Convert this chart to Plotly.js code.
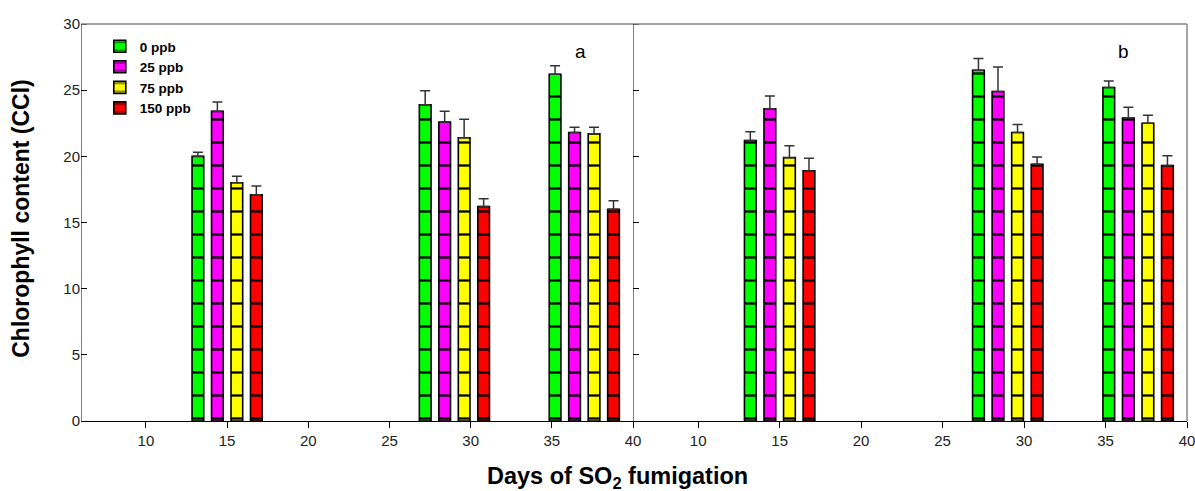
<!DOCTYPE html>
<html>
<head>
<meta charset="utf-8">
<script src="https://cdn.plot.ly/plotly-3.0.1.min.js"></script>
<style>html,body{margin:0;padding:0;background:#fff;}#chart{width:1195px;height:491px;}</style>
</head>
<body>
<div id="chart"></div>
<script>
// Days of SO2 fumigation (group centres)
const days = [15, 29, 37];
const seriesNames = ["0 ppb", "25 ppb", "75 ppb", "150 ppb"];
const seriesColors = ["#00ff00", "#ff00ff", "#ffff00", "#ff0000"];

// Panel a: chlorophyll content (CCI)
const a_0ppb   = [20.0, 23.9, 26.2];
const a_25ppb  = [23.4, 22.6, 21.8];
const a_75ppb  = [18.0, 21.4, 21.7];
const a_150ppb = [17.1, 16.2, 16.0];
const a_err_0ppb   = [0.3, 1.05, 0.65];
const a_err_25ppb  = [0.7, 0.8, 0.4];
const a_err_75ppb  = [0.5, 1.4, 0.5];
const a_err_150ppb = [0.65, 0.6, 0.65];

// Panel b
const b_0ppb   = [21.2, 26.5, 25.2];
const b_25ppb  = [23.6, 24.9, 22.9];
const b_75ppb  = [19.9, 21.8, 22.5];
const b_150ppb = [18.9, 19.4, 19.3];
const b_err_0ppb   = [0.65, 0.9, 0.5];
const b_err_25ppb  = [0.95, 1.85, 0.8];
const b_err_75ppb  = [0.9, 0.6, 0.6];
const b_err_150ppb = [0.95, 0.55, 0.75];

const xTicks = [10, 15, 20, 25, 30, 35, 40];
const yTicks = [0, 5, 10, 15, 20, 25, 30];

const panelA = [a_0ppb, a_25ppb, a_75ppb, a_150ppb];
const panelAErr = [a_err_0ppb, a_err_25ppb, a_err_75ppb, a_err_150ppb];
const panelB = [b_0ppb, b_25ppb, b_75ppb, b_150ppb];
const panelBErr = [b_err_0ppb, b_err_25ppb, b_err_75ppb, b_err_150ppb];

const FONT = "Arial, 'Liberation Sans', sans-serif";
const traces = [];
function addPanel(vals, errs, xa, ya, showLegend) {
  vals.forEach((v, i) => {
    traces.push({
      type: "bar",
      x: days,
      y: v,
      name: seriesNames[i],
      xaxis: xa, yaxis: ya,
      showlegend: showLegend,
      legendgroup: seriesNames[i],
      marker: {
        color: seriesColors[i],
        line: {color: "#000", width: 1.6},
        pattern: {shape: "-", fgcolor: "#000", bgcolor: seriesColors[i], size: 23, solidity: 0.1, fillmode: "replace"}
      },
      error_y: {type: "data", symmetric: false, array: errs[i], arrayminus: v.map(() => 0),
                color: "#333", thickness: 1.5, width: 5},
      hoverinfo: "skip"
    });
  });
}
addPanel(panelA, panelAErr, "x", "y", true);
addPanel(panelB, panelBErr, "x2", "y2", false);

// plot area: x 81..1187, y 16..421 (value 30 sits at y=24)
const YMAX = 30 * (421 - 16) / (421 - 24);
const split = (633 - 81) / (1187 - 81);
const axX = {
  range: [6, 40], tickvals: xTicks, ticktext: xTicks.map(String),
  ticks: "outside", ticklen: 6, tickwidth: 1, tickcolor: "#000", ticklabeloverflow: "allow",
  showline: true, linecolor: "#000", linewidth: 1, showgrid: false, zeroline: false,
  tickfont: {family: FONT, size: 15, color: "#222"}
};
const axY = {
  domain: [0, 1], range: [0, YMAX], tickvals: yTicks,
  ticks: "inside", ticklen: 6, tickcolor: "#000",
  showline: false, showgrid: false, zeroline: false,
  tickfont: {family: FONT, size: 15, color: "#222"}
};
const layout = {
  width: 1195, height: 491,
  margin: {l: 81, r: 8, t: 16, b: 70},
  paper_bgcolor: "#fff", plot_bgcolor: "#fff",
  font: {family: FONT},
  barmode: "group", bargap: 0.4, bargroupgap: 0.4,
  xaxis: Object.assign({}, axX, {domain: [0, split], anchor: "y"}),
  xaxis2: Object.assign({}, axX, {domain: [split, 1], anchor: "y2"}),
  yaxis: Object.assign({}, axY, {anchor: "x",
    title: {text: "<b>Chlorophyll content (CCl)</b>", font: {family: FONT, size: 23, color: "#000"}, standoff: 27}}),
  yaxis2: Object.assign({}, axY, {anchor: "x2", showticklabels: false}),
  legend: {
    x: 0.017, y: 0.963, xanchor: "left", yanchor: "top",
    bgcolor: "rgba(0,0,0,0)", tracegroupgap: 0,
    font: {family: FONT, size: 13.5, color: "#000", weight: "bold"}
  },
  shapes: [
    {type: "line", xref: "paper", yref: "y", x0: 0, x1: 1, y0: 30, y1: 30, line: {color: "#888", width: 1.5}},
    {type: "line", xref: "paper", yref: "y", x0: 1, x1: 1, y0: 0, y1: 30, line: {color: "#888", width: 1.5}},
    {type: "line", xref: "x", yref: "y", x0: 6, x1: 6, y0: 0, y1: 30, line: {color: "#000", width: 1}},
    {type: "line", xref: "x2", yref: "y2", x0: 6, x1: 6, y0: 0, y1: 30, line: {color: "#000", width: 1}}
  ],
  annotations: [
    {text: "a", xref: "x", yref: "y", x: 36.75, y: 27.9, xanchor: "center", yanchor: "middle", showarrow: false, font: {family: FONT, size: 19, color: "#000"}},
    {text: "b", xref: "x2", yref: "y2", x: 36.1, y: 27.9, xanchor: "center", yanchor: "middle", showarrow: false, font: {family: FONT, size: 19, color: "#000"}},
    {text: "<b>Days of SO<sub>2</sub> fumigation</b>", xref: "paper", yref: "paper", x: 0.485, y: -0.14, xanchor: "center", yanchor: "middle",
     showarrow: false, font: {family: FONT, size: 23.5, color: "#000"}}
  ]
};
Plotly.newPlot("chart", traces, layout, {displayModeBar: false, staticPlot: true});
</script>
</body>
</html>
